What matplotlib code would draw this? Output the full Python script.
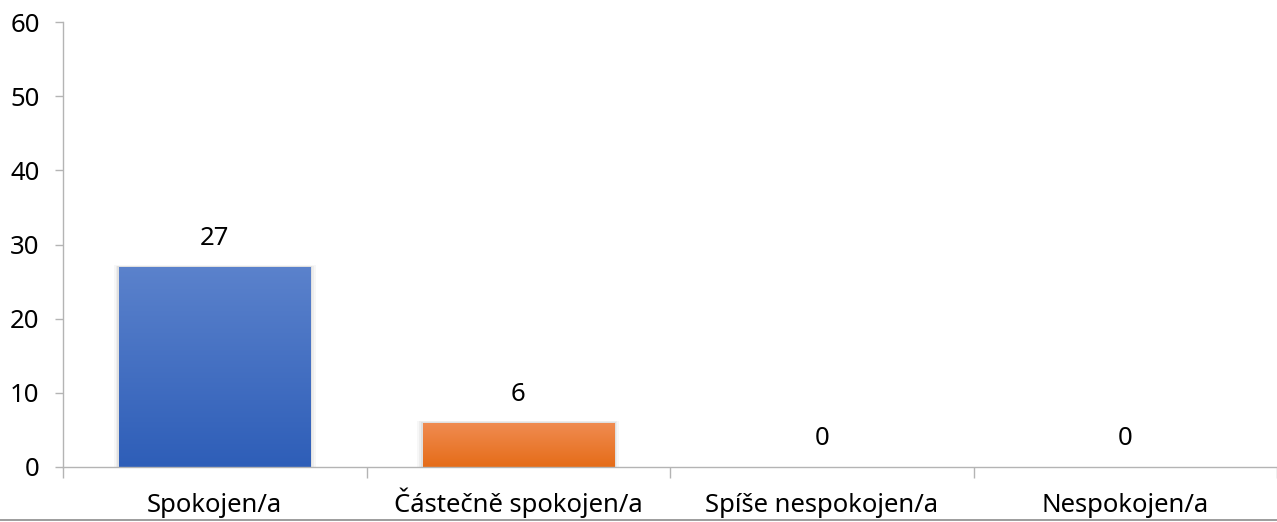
import numpy as np
import matplotlib
matplotlib.use('Agg')
import matplotlib.pyplot as plt
from matplotlib.colors import LinearSegmentedColormap
from matplotlib.patches import Rectangle
from matplotlib.lines import Line2D

# --- data ---
categories = ['Spokojen/a', 'Částečně spokojen/a', 'Spíše nespokojen/a', 'Nespokojen/a']
values = [27, 6, 0, 0]
top_colors = ['#5b82cc', '#f08c52']
bottom_colors = ['#2e5eb8', '#e56c18']

plt.rcParams['font.family'] = ['Noto Sans', 'DejaVu Sans']

W, H = 1277, 522
fig = plt.figure(figsize=(W / 100, H / 100), dpi=100)
ax = fig.add_axes([63 / W, (H - 467) / H, (W - 63) / W, (467 - 22) / H])

x = np.arange(len(categories))
bar_w = 0.63
axis_grey = '#b4b4b4'
fs = 18.5

bars = ax.bar(x, values, width=bar_w, color='none', edgecolor='none', zorder=2)
grad = np.linspace(0, 1, 256).reshape(-1, 1)
for i, b in enumerate(bars):
    if values[i] <= 0:
        continue
    cmap = LinearSegmentedColormap.from_list('g%d' % i, [bottom_colors[i % 2], top_colors[i % 2]])
    x0, w, h = b.get_x(), b.get_width(), b.get_height()
    # soft shadow
    for k, a in enumerate([0.05, 0.04, 0.03]):
        d = 0.006 * (k + 1)
        ax.add_patch(Rectangle((x0 - d, 0), w + 2 * d, h + d * 12, color='black',
                               alpha=a, lw=0, zorder=1))
    im = ax.imshow(grad, cmap=cmap, origin='lower', aspect='auto',
                   extent=(x0, x0 + w, 0, h), zorder=2)
    im.set_clip_path(b)

for xi, v in zip(x, values):
    ax.annotate(str(v), (xi, v), xytext=(0, 11.5), textcoords='offset points',
                ha='center', va='bottom', fontsize=fs, color='black')

ax.set_xlim(-0.5, -0.5 + (W - 63) / 305.3)
ax.set_ylim(0, 60)
ax.set_yticks(range(0, 61, 10))
ax.set_xticks(x)
ax.set_xticklabels(categories)
ax.set_xticks(np.arange(-0.5, len(categories), 1.0), minor=True)

ax.tick_params(axis='y', length=5.8, width=1, color=axis_grey, labelsize=fs, pad=11)
ax.tick_params(axis='x', which='major', length=0, labelsize=fs, pad=32.5)
ax.tick_params(axis='x', which='minor', length=8, width=1, color=axis_grey)
plt.setp(ax.get_xticklabels(), va='baseline')

for s in ['top', 'right']:
    ax.spines[s].set_visible(False)
for s in ['left', 'bottom']:
    ax.spines[s].set_color(axis_grey)
    ax.spines[s].set_linewidth(1)

# bottom frame edge of the original chart
fig.lines.append(Line2D([0, 1], [2.5 / H, 2.5 / H], transform=fig.transFigure,
                        color='#8c8c8c', lw=1.2, zorder=6))

fig.savefig('out.png', dpi=100)
